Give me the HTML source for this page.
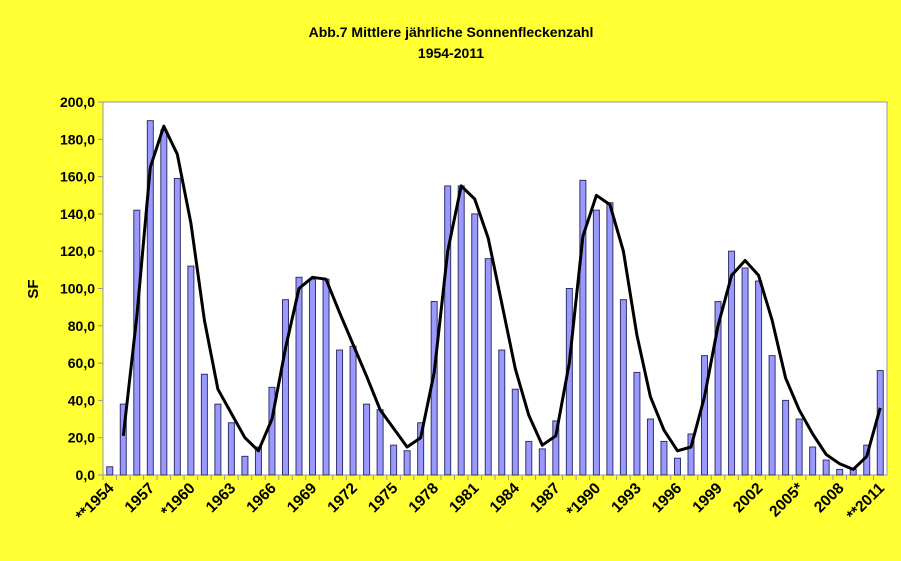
<!DOCTYPE html>
<html><head><meta charset="utf-8"><style>
body{margin:0;background:#FFFF33;}
svg{display:block;font-family:"Liberation Sans",sans-serif;}
</style></head><body>
<svg id="c" width="901" height="561">
<rect x="0" y="0" width="901" height="561" fill="#FFFF33"/>
<text x="451" y="37" text-anchor="middle" font-size="14" font-weight="bold">Abb.7 Mittlere jährliche Sonnenfleckenzahl</text>
<text x="451" y="58" text-anchor="middle" font-size="14" font-weight="bold">1954-2011</text>
<rect x="103" y="102" width="784" height="373" fill="#fff" stroke="#999"/>
<text transform="translate(38,289) rotate(-90)" text-anchor="middle" font-size="15" font-weight="bold">SF</text>
<g id="g"></g>
</svg>
<script>
const years=[];for(let y=1954;y<=2011;y++)years.push(y);
const annual=[4.4,38,142,190,185,159,112,54,38,28,10,15,47,94,106,105,105,67,69,38,35,16,13,28,93,155,155,140,116,67,46,18,14,29,100,158,142,146,94,55,30,18,9,22,64,93,120,111,104,64,40,30,15,8,3,3,16,56];
const smoothed=[null,21,85,165,187,172,135,83,46,33,20,13,30,68,100,106,105,87,70,53,35,25,15,20,55,120,155,148,127,92,57,32,16,21,60,128,150,145,120,75,42,24,13,15,42,80,107,115,107,83,52,35,22,11,6,3,10,36];
const yTicks=["0,0","20,0","40,0","60,0","80,0","100,0","120,0","140,0","160,0","180,0","200,0"];
const xLabels={1954:"**1954",1960:"*1960",1990:"*1990",2005:"2005*",2011:"**2011"};
const L=103,R=887,T=102,B=475,ymax=200;
const bw=(R-L)/years.length;
const X=i=>L+bw*(i+0.5), Y=v=>B-(v/ymax)*(B-T);
const g=document.getElementById('g'),NS="http://www.w3.org/2000/svg";
function mk(t,a){const e=document.createElementNS(NS,t);for(const k in a)e.setAttribute(k,a[k]);g.appendChild(e);return e;}
yTicks.forEach((t,i)=>{const v=i*20;
 const ln=mk('line',{x1:L-5,x2:L,y1:Y(v),y2:Y(v),stroke:'#999'});
 
 
 const tx=mk('text',{x:L-8,y:Y(v)+5,'text-anchor':'end','font-size':14,'font-weight':'bold'});tx.textContent=t;
 
 
});
years.forEach((yr,i)=>{
 const tk=mk('line',{x1:L+bw*i,x2:L+bw*i,y1:B,y2:B+5,stroke:'#999'});
 
 
 const r=mk('rect',{x:X(i)-3,y:Y(annual[i]),width:6,height:B-Y(annual[i]),fill:'#9999FF',stroke:'#333366','stroke-width':1});
 
 
 if(i%3===0){const lab=xLabels[yr]||String(yr);
  const tx=mk('text',{transform:`translate(${X(i)+5},${B+14}) rotate(-45)`,'text-anchor':'end','font-size':15.5,'font-weight':'bold'});tx.textContent=lab;
  
  }
});
let d="";smoothed.forEach((v,i)=>{if(v==null)return;d+=(d?"L":"M")+X(i).toFixed(1)+","+Y(v).toFixed(1);});
const p=mk('path',{d:d,fill:'none',stroke:'#000','stroke-width':3,'stroke-linejoin':'round'});


</script>
</body></html>
